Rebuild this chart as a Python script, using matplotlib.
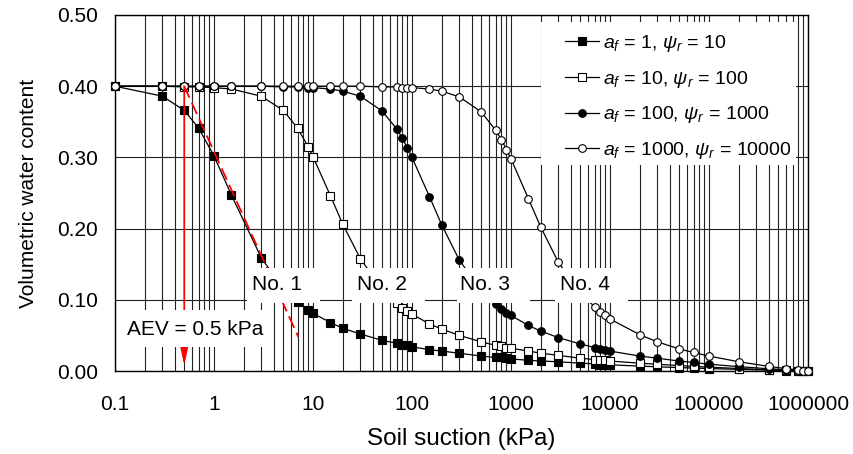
import numpy as np
import matplotlib.pyplot as plt
from matplotlib.patches import Rectangle
from matplotlib.ticker import LogLocator, NullFormatter

plt.rcParams['font.family'] = ['Liberation Sans', 'DejaVu Sans']
plt.rcParams['mathtext.fontset'] = 'custom'
plt.rcParams['mathtext.rm'] = 'Liberation Sans'
plt.rcParams['mathtext.it'] = 'Liberation Sans:italic'

# soil suction (kPa) at the plotted points
psi = [0.1, 0.3, 0.5, 0.7, 1, 1.5, 3, 5, 7, 9,
       10, 15, 20, 30, 50, 70, 80, 90,
       100, 150, 200, 300, 500, 700, 800, 900,
       1000, 1500, 2000, 3000, 5000, 7000, 8000, 9000,
       10000, 20000, 30000, 50000, 70000,
       100000, 200000, 400000, 600000, 800000, 900000, 1000000]

# volumetric water content
theta_1 = [0.400, 0.386, 0.366, 0.341, 0.302, 0.247, 0.159, 0.116, 0.097, 0.085,
           0.081, 0.068, 0.060, 0.052, 0.043, 0.039, 0.037, 0.036,
           0.034, 0.030, 0.028, 0.025, 0.021, 0.019, 0.019, 0.018,
           0.017, 0.015, 0.014, 0.013, 0.011, 0.010, 0.009, 0.009,
           0.0087, 0.0069, 0.0059, 0.0048, 0.0041,
           0.0035, 0.0023, 0.0012, 0.0007, 0.0003, 0.0001, 0.0]
theta_2 = [0.400, 0.400, 0.399, 0.399, 0.398, 0.396, 0.386, 0.366, 0.341, 0.314,
           0.301, 0.246, 0.206, 0.158, 0.115, 0.096, 0.089, 0.084,
           0.080, 0.066, 0.059, 0.050, 0.041, 0.036, 0.035, 0.033,
           0.032, 0.028, 0.025, 0.022, 0.018, 0.016, 0.016, 0.015,
           0.014, 0.011, 0.0095, 0.0076, 0.0065,
           0.0054, 0.0035, 0.0019, 0.0010, 0.0004, 0.0002, 0.0]
theta_3 = [0.400, 0.400, 0.400, 0.400, 0.400, 0.400, 0.400, 0.399, 0.399, 0.398,
           0.398, 0.396, 0.393, 0.386, 0.365, 0.340, 0.327, 0.313,
           0.300, 0.245, 0.205, 0.156, 0.113, 0.094, 0.087, 0.082,
           0.078, 0.064, 0.056, 0.047, 0.038, 0.033, 0.031, 0.030,
           0.028, 0.021, 0.018, 0.014, 0.012,
           0.0096, 0.0061, 0.0032, 0.0017, 0.0007, 0.0003, 0.0]
theta_4 = [0.400, 0.400, 0.400, 0.400, 0.400, 0.400, 0.400, 0.400, 0.400, 0.400,
           0.400, 0.400, 0.400, 0.400, 0.399, 0.399, 0.398, 0.398,
           0.398, 0.396, 0.393, 0.385, 0.364, 0.338, 0.325, 0.311,
           0.298, 0.242, 0.202, 0.153, 0.110, 0.090, 0.083, 0.078,
           0.073, 0.051, 0.041, 0.031, 0.026,
           0.021, 0.013, 0.0065, 0.0034, 0.0014, 0.0007, 0.0]

labels = [r'$a_f$ = 1, $\psi_r$ = 10',
          r'$a_f$ = 10, $\psi_r$ = 100',
          r'$a_f$ = 100, $\psi_r$ = 1000',
          r'$a_f$ = 1000, $\psi_r$ = 10000']
markers = ['s', 's', 'o', 'o']
faces = ['black', 'white', 'black', 'white']

curve_names = ['No. 1', 'No. 2', 'No. 3', 'No. 4']
name_x = [2.42, 27.8, 305, 3126]          # left edge of the text
box_x = [(2.15, 11.8), (24.8, 135), (285, 1556), (2783, 15200)]

# air-entry value construction on curve No. 1
aev = 0.5
tangent_x = [0.5, 7.1]
tangent_y = [0.400, 0.048]

xtick_vals = [0.1, 1, 10, 100, 1000, 10000, 100000, 1000000]
xtick_labels = ['0.1', '1', '10', '100', '1000', '10000', '100000', '1000000']
ytick_vals = [0.0, 0.1, 0.2, 0.3, 0.4, 0.5]

fig = plt.figure(figsize=(8.54, 4.54), dpi=100)
ax = fig.add_axes([0.1347, 0.1828, 0.8114, 0.7842])

all_theta = [theta_1, theta_2, theta_3, theta_4]
for th, lab, mk, fc in zip(all_theta, labels, markers, faces):
    ax.plot(psi, th, color='black', lw=0.9, marker=mk, ms=5.5,
            mfc=fc, mec='black', mew=0.8, label=lab, clip_on=False, zorder=3)

# red tangent line and AEV arrow
ax.plot(tangent_x, tangent_y, color='red', lw=1.3, ls=(0, (7, 3)), zorder=4)
ax.annotate('', xy=(aev, 0.008), xytext=(aev, 0.400),
            arrowprops=dict(arrowstyle='-|>,head_length=1.0,head_width=0.22',
                            color='red', lw=1.2, mutation_scale=10,
                            shrinkA=0, shrinkB=0), zorder=4)

# white label boxes on top of the curves
for name, tx, (bx0, bx1) in zip(curve_names, name_x, box_x):
    ax.add_patch(Rectangle((bx0, 0.0955), bx1 - bx0, 0.0492, facecolor='white',
                           edgecolor='none', zorder=5))
    ax.text(tx, 0.121, name, fontsize=15, va='center', ha='left', zorder=6)

ax.add_patch(Rectangle((0.1205, 0.0337), 3.13 - 0.1205, 0.052, facecolor='white',
                       edgecolor='none', zorder=5))
ax.text(0.132, 0.0585, 'AEV = 0.5 kPa', fontsize=15, va='center', ha='left', zorder=6)

ax.set_xscale('log')
ax.set_xlim(0.1, 1e6)
ax.set_ylim(0, 0.5)
ax.set_xticks(xtick_vals)
ax.set_xticklabels(xtick_labels)
ax.xaxis.set_minor_locator(LogLocator(base=10, subs=np.arange(2, 10), numticks=20))
ax.xaxis.set_minor_formatter(NullFormatter())
ax.set_yticks(ytick_vals)
ax.set_yticklabels(['%.2f' % v for v in ytick_vals])
ax.tick_params(which='both', length=0, labelsize=15)
ax.tick_params(axis='x', pad=17)
ax.tick_params(axis='y', pad=12)

ax.grid(which='both', axis='x', color='#222222', lw=0.8, zorder=1)
ax.grid(which='major', axis='y', color='#222222', lw=0.8, zorder=1)
ax.set_axisbelow(True)
for s in ax.spines.values():
    s.set_linewidth(1.0)

ax.set_xlabel('Soil suction (kPa)', fontsize=17.5, labelpad=10)
ax.set_ylabel('Volumetric water content', fontsize=15, labelpad=14)

# white panel behind the legend
ax.add_patch(Rectangle((0.6147, 0.5787), 0.9827 - 0.6147, 0.9803 - 0.5787,
                       transform=ax.transAxes, facecolor='white', edgecolor='none',
                       zorder=6))
leg = ax.legend(loc='upper right', bbox_to_anchor=(0.976, 0.950), borderaxespad=0,
                fontsize=14, frameon=False, handlelength=1.75, handletextpad=0.2,
                labelspacing=0.76, borderpad=0)
leg.set_zorder(7)

fig.savefig('out.png', dpi=100)
